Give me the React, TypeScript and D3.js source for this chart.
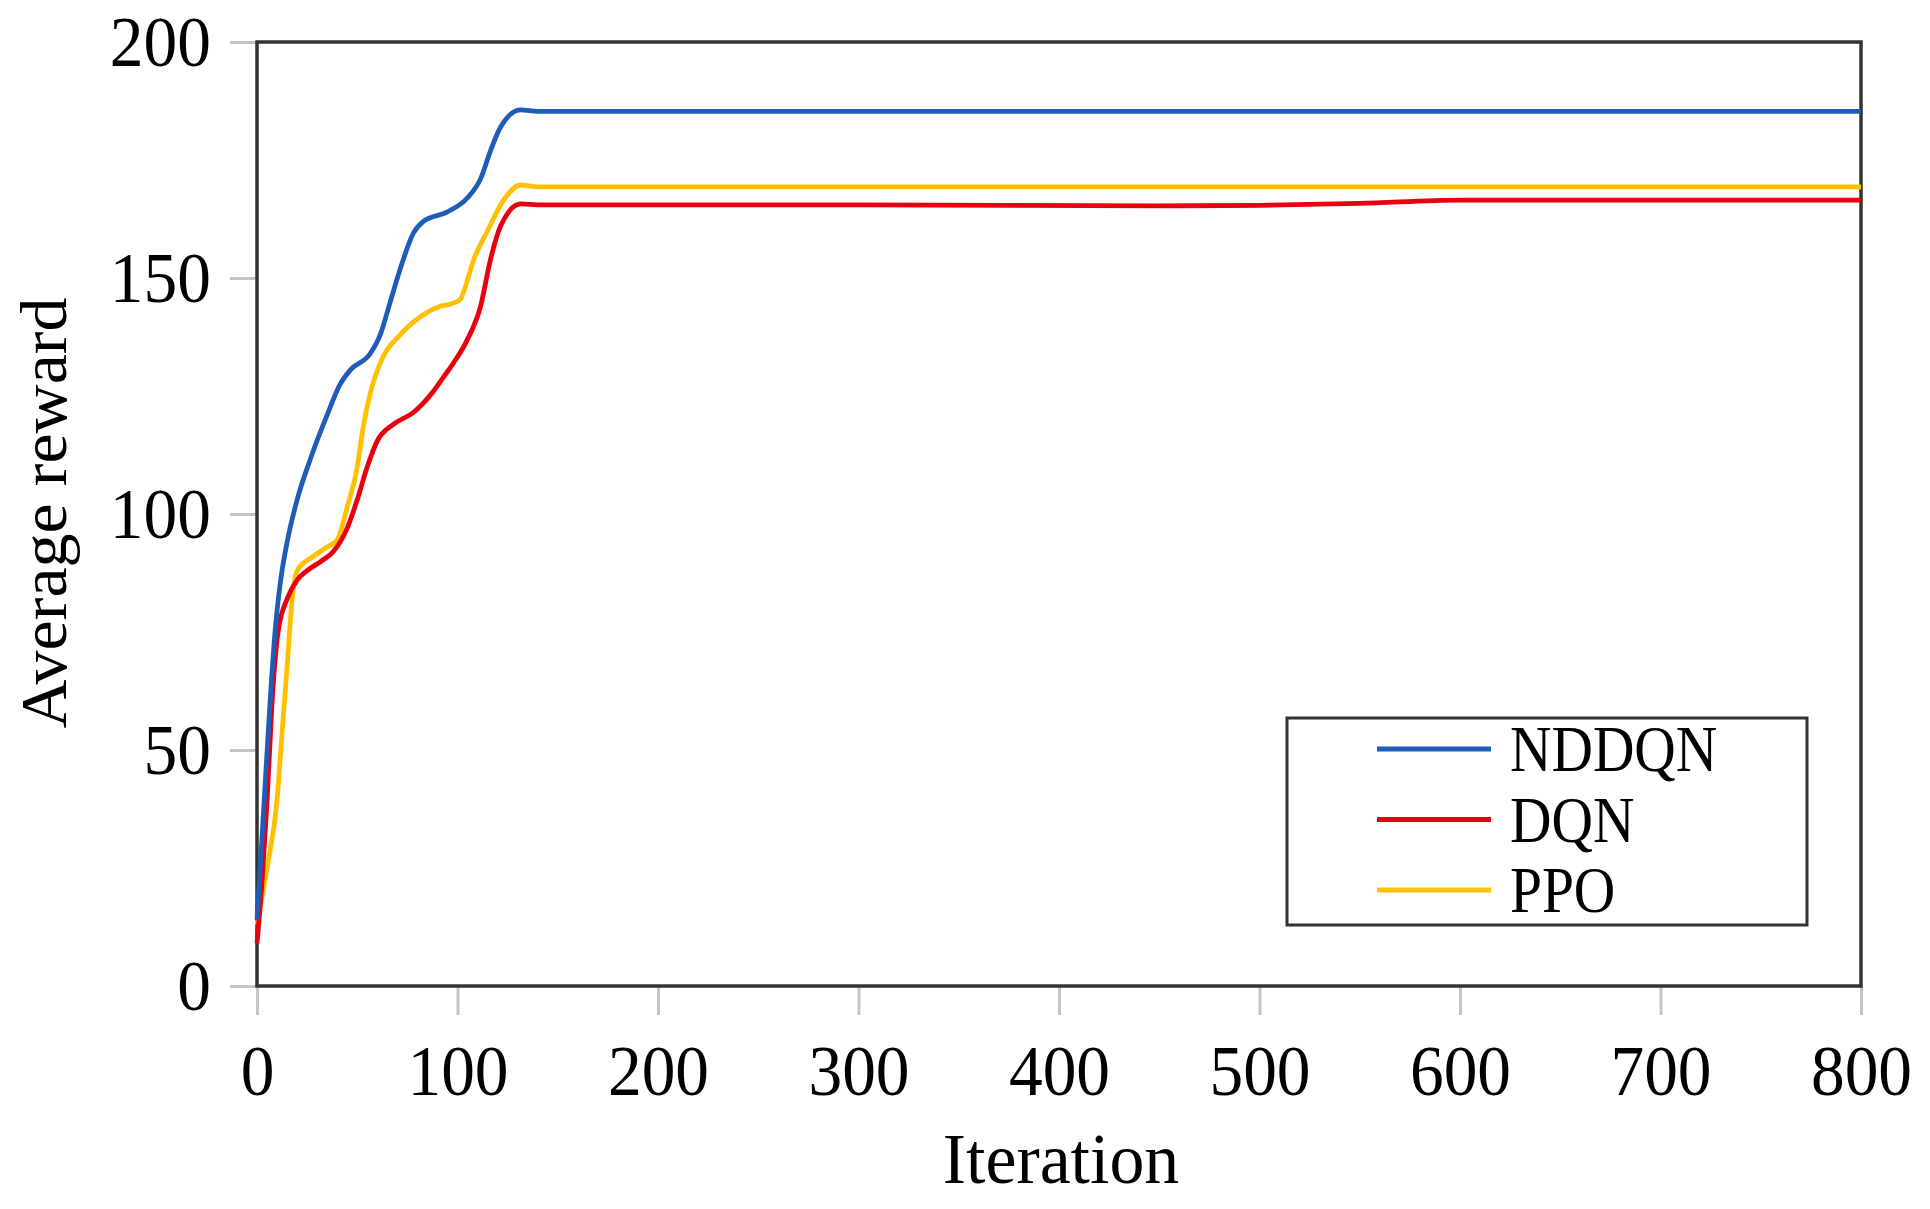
import { useRef, useEffect } from "react";
import * as d3 from "d3";

// iteration / average reward
const nddqnIter = [0, 3, 6.5, 9, 11.5, 15, 20, 26.5, 35, 41.5, 46.5, 56.5, 61.5, 66.5, 71.5, 78, 83, 95, 105, 111.5, 116.5, 121.5, 131.5, 140, 800];
const nddqnReward = [14, 35, 60, 75, 85, 94, 103, 111.5, 121, 127.5, 130.5, 134, 138, 145, 152, 159.5, 162, 164, 167, 171, 177, 182, 185.6, 185.3, 185.3];

const dqnIter = [0, 2.5, 5, 7.5, 10.5, 15, 20, 25, 32, 38, 45, 50, 55, 60, 68, 78, 88, 93, 98, 105, 111.5, 116.5, 121.5, 131.5, 140, 300, 450, 500, 550, 600, 800];
const dqnReward = [9, 22, 39, 60, 75, 82, 86, 88, 90, 92, 97, 103, 110, 115.5, 119, 121.5, 126, 129, 132, 137, 144, 154, 161, 165.7, 165.5, 165.5, 165.3, 165.4, 165.8, 166.5, 166.5];

const ppoIter = [0, 5, 10, 12.5, 15, 17.5, 20, 28, 35, 40, 45, 50, 53, 56.5, 61.5, 71.5, 81.5, 91.5, 96.5, 101.5, 103, 108, 115, 123, 131.5, 140, 800];
const ppoReward = [13, 25, 39.4, 53.6, 67.6, 81.8, 88, 91, 93, 94.5, 101.5, 110, 118.5, 125.6, 132, 138, 141.8, 144, 144.5, 145.5, 147, 153.8, 160, 166.5, 169.7, 169.3, 169.3];

const seriesNames = ["NDDQN", "DQN", "PPO"];
const seriesColors = ["#1f5cb8", "#e8000f", "#ffc000"];
const xTicks = [0, 100, 200, 300, 400, 500, 600, 700, 800];
const yTicks = [0, 50, 100, 150, 200];

const FONT = "'Liberation Serif', 'Times New Roman', serif";

const App = () => {
  const svgRef = useRef<SVGSVGElement>(null);
  const W = 1930;
  const H = 1209;

  useEffect(() => {
    const M = { TOP: 42, LEFT: 257, RIGHT: 69, BOTTOM: 223 };
    const WIDTH = W - M.LEFT - M.RIGHT;
    const HEIGHT = H - M.TOP - M.BOTTOM;

    const svg = d3.select(svgRef.current);
    svg.selectAll("*").remove();

    const x = d3.scaleLinear().domain([0, 800]).range([0, WIDTH]);
    const y = d3.scaleLinear().domain([0, 200]).range([HEIGHT, 0]);

    const g = svg.append("g").attr("transform", `translate(${M.LEFT},${M.TOP})`);

    // axes
    const xAxis = g
      .append("g")
      .attr("transform", `translate(0,${HEIGHT})`)
      .call(d3.axisBottom(x).tickValues(xTicks).tickSize(29).tickFormat(d3.format("d")) as any);
    const yAxis = g
      .append("g")
      .call(d3.axisLeft(y).tickValues(yTicks).tickSize(27).tickFormat(d3.format("d")) as any);

    [xAxis, yAxis].forEach((a) => {
      a.select(".domain").remove();
      a.selectAll(".tick line").attr("stroke", "#c4c4c4").attr("stroke-width", 3);
      a.selectAll(".tick text")
        .attr("font-family", FONT)
        .attr("font-size", 71)
        .attr("fill", "#000");
    });
    xAxis.selectAll(".tick text")
      .attr("y", 0)
      .attr("dy", 0)
      .attr("transform", "translate(0,109) scale(0.95,1)");
    yAxis.selectAll(".tick text")
      .attr("x", 0)
      .attr("dy", "0.33em")
      .attr("transform", "translate(-46,0) scale(0.95,1)");

    // frame
    g.append("rect")
      .attr("width", WIDTH)
      .attr("height", HEIGHT)
      .attr("fill", "none")
      .attr("stroke", "#333")
      .attr("stroke-width", 3.5);

    // curves
    const series = [
      nddqnIter.map((d, i) => [d, nddqnReward[i]]),
      dqnIter.map((d, i) => [d, dqnReward[i]]),
      ppoIter.map((d, i) => [d, ppoReward[i]]),
    ];
    const line = d3
      .line<number[]>()
      .x((d) => x(d[0]))
      .y((d) => y(d[1]))
      .curve(d3.curveMonotoneX);

    [2, 1, 0].forEach((i) => {
      g.append("path")
        .datum(series[i])
        .attr("d", line)
        .attr("fill", "none")
        .attr("stroke", seriesColors[i])
        .attr("stroke-width", 4.8)
        .attr("stroke-linejoin", "round");
    });

    // axis titles
    svg.append("text")
      .attr("transform", `translate(${M.LEFT + x(400) + 2},1183) scale(0.97,1)`)
      .attr("text-anchor", "middle")
      .attr("font-family", FONT)
      .attr("font-size", 72)
      .text("Iteration");

    svg.append("text")
      .attr("transform", `translate(66,${M.TOP + y(100) - 1}) rotate(-90) scale(1,0.95)`)
      .attr("text-anchor", "middle")
      .attr("font-family", FONT)
      .attr("font-size", 68)
      .text("Average reward");

    // legend
    const legend = svg.append("g").attr("transform", "translate(1287,718)");
    legend.append("rect")
      .attr("width", 520)
      .attr("height", 207)
      .attr("fill", "#fff")
      .attr("stroke", "#333")
      .attr("stroke-width", 3);
    seriesNames.forEach((name, i) => {
      const row = legend.append("g").attr("transform", `translate(0,${31 + i * 70.5})`);
      row.append("line")
        .attr("x1", 90)
        .attr("x2", 204)
        .attr("stroke", seriesColors[i])
        .attr("stroke-width", 5);
      row.append("text")
        .attr("transform", "translate(223,22) scale(0.87,1)")
        .attr("font-family", FONT)
        .attr("font-size", 66)
        .text(name);
    });
  }, []);

  return (
    <svg
      ref={svgRef}
      width={W}
      height={H}
      style={{ position: "absolute", left: 0, top: 0, background: "#fff" }}
    />
  );
};

export default App;
